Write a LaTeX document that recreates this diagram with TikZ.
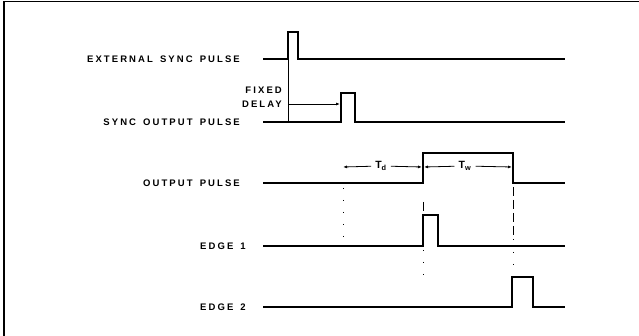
\documentclass[tikz,border=0pt]{standalone}
\usepackage{fontspec}
\newfontfamily\lblfont[LetterSpace=22, WordSpace=1.5]{Liberation Sans Bold}
\usetikzlibrary{positioning,arrows.meta}

\tikzset{
  wave/.style={line width=1.7pt, line join=miter},
  siglabel/.style={font=\lblfont\fontsize{9.5}{10}\selectfont, inner sep=0pt, anchor=east},
  dimlabel/.style={font=\lblfont\fontsize{10.5}{11}\selectfont, inner sep=0pt, inner xsep=4pt, fill=white},
  thinline/.style={line width=0.8pt},
  dotline/.style={line width=0.9pt, dash pattern=on 1pt off 11pt},
  dashline/.style={line width=0.8pt, dash pattern=on 9pt off 4pt},
  dimarrow/.style={line width=0.8pt, -{Latex[length=4pt,width=3pt]}}
}

\begin{document}
\begin{tikzpicture}[x=1pt, y=-1pt]
    \useasboundingbox (0,0) rectangle (639,336);

    % frame
    \draw[line width=1.2pt] (4,336) -- (4,1.5) -- (639,1.5);

    % labels
    \node[siglabel] (extlbl) at (240,59) {EXTERNAL SYNC PULSE};
    \node[siglabel] (synclbl) at (240,122) {SYNC OUTPUT PULSE};
    \node[siglabel] (outlbl) at (240,183) {OUTPUT PULSE};
    \node[siglabel, anchor=west] (e1lbl) at (200,246) {EDGE 1};
    \node[siglabel, anchor=west] (e2lbl) at (200,307) {EDGE 2};
    \node[siglabel] (fixlbl) at (282,90) {FIXED};
    \node[siglabel] (dellbl) at (282,104) {DELAY};

    % waveforms
    \draw[wave] (263,59) -- (288,59) -- (288,32) -- (298,32) -- (298,59) -- (565,59);
    \draw[wave] (263,122) -- (341,122) -- (341,93) -- (355,93) -- (355,122) -- (565,122);
    \draw[wave] (263,183) -- (423,183) -- (423,153) -- (513,153) -- (513,183) -- (565,183);
    \draw[wave] (263,246) -- (423,246) -- (423,215) -- (438,215) -- (438,246) -- (565,246);
    \draw[wave] (263,307) -- (512,307) -- (512,277) -- (533,277) -- (533,307) -- (565,307);

    % fixed delay
    \coordinate (extrise) at (288,59);
    \coordinate (extfoot) at (288,122);
    \coordinate (delstart) at (288,104);
    \coordinate (delend) at (340,104);
    \draw[thinline] (extrise) -- (extfoot);
    \draw[dimarrow] (delstart) -- (delend);

    % Td and Tw
    \coordinate (tdleft) at (343,167);
    \coordinate (tdright) at (422,167);
    \coordinate (twleft) at (424,167);
    \coordinate (twright) at (512,167);
    \node[dimlabel] (tdlbl) at (381,166) {T\textsubscript{d}};
    \node[dimlabel] (twlbl) at (465,166) {T\textsubscript{w}};
    \draw[dimarrow] (tdlbl) -- (tdleft);
    \draw[dimarrow] (tdlbl) -- (tdright);
    \draw[dimarrow] (twlbl) -- (twleft);
    \draw[dimarrow] (twlbl) -- (twright);

    % extension lines
    \draw[dotline] (343,188) -- (343,244);
    \draw[thinline] (423,202) -- (423,211);
    \draw[dotline] (423,250) -- (423,284);
    \draw[dashline] (513,187) -- (513,240);
    \draw[dotline] (513,252) -- (513,276);
\end{tikzpicture}
\end{document}
